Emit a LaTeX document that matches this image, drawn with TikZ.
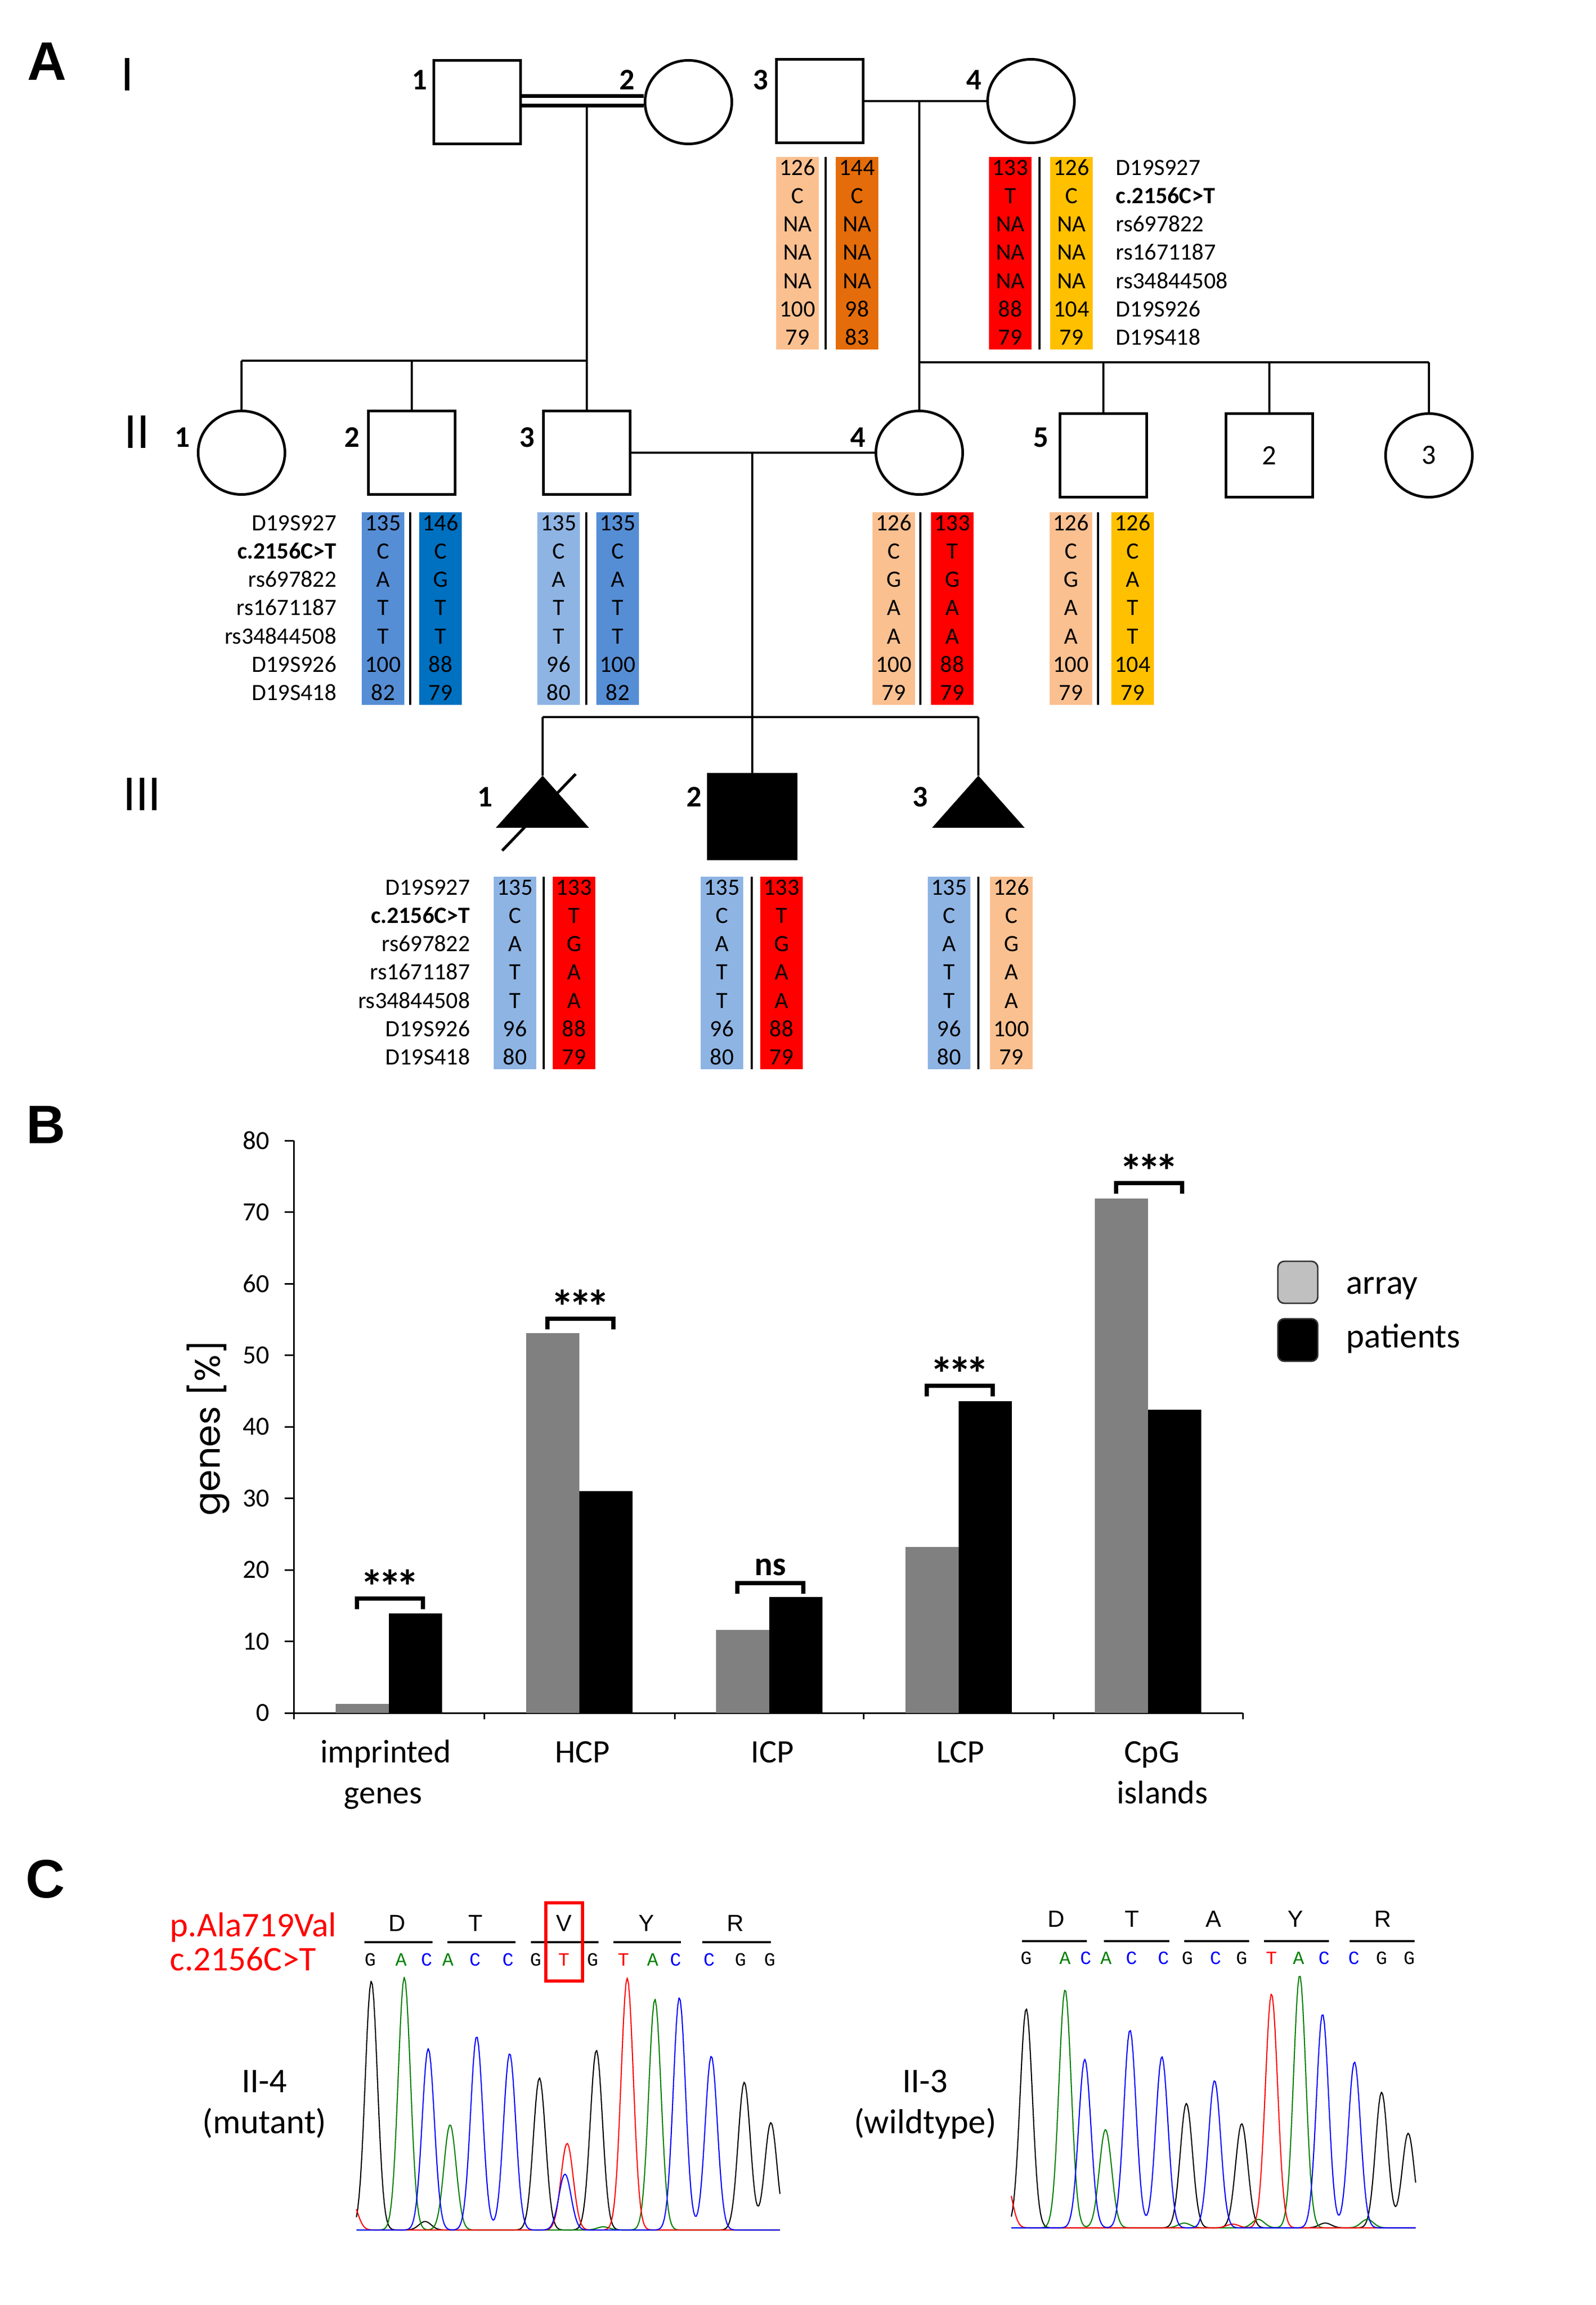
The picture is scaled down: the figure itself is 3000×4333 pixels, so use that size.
\documentclass[tikz,border=0pt]{standalone}
\usepackage{fontspec}
\setmainfont{Carlito}
\newfontfamily\panelfont{Liberation Sans}
\newfontfamily\axisfont{Poppins}
\newfontfamily\basefont{Liberation Mono}
\newfontfamily\aafont{Liberation Sans}
\usetikzlibrary{shapes.geometric}
\definecolor{peach}{HTML}{FAC090}
\definecolor{dorange}{HTML}{E46C0A}
\definecolor{hred}{HTML}{FF0000}
\definecolor{gold}{HTML}{FFC000}
\definecolor{mblue}{HTML}{558ED5}
\definecolor{dblue}{HTML}{0070C0}
\definecolor{lblue}{HTML}{8EB4E3}
\definecolor{bargray}{HTML}{808080}
\definecolor{leggray}{HTML}{C0C0C0}
\definecolor{cgreen}{HTML}{008000}
\definecolor{cblue}{HTML}{0000FF}
\definecolor{cred}{HTML}{FF0000}
\tikzset{
  sym/.style={draw, line width=1.4pt, inner sep=0pt, minimum width=1.63cm, minimum height=1.57cm},
  male/.style={sym, rectangle},
  female/.style={sym, ellipse},
  conn/.style={line width=1pt},
  sib/.style={line width=1.4pt},
  mar/.style={line width=1.2pt},
  dbl/.style={line width=1.9pt, double, double distance=0.11cm},
  hap/.style={font=\fontsize{12.5}{15}\selectfont, inner sep=0pt, text height=8pt, text depth=0pt},
  indlab/.style={font=\fontsize{16}{19}\selectfont\bfseries, inner sep=0pt},
  inlab/.style={font=\fontsize{15}{18}\selectfont},
  genlab/.style={font=\fontsize{27}{32}\selectfont, inner sep=0pt},
  panel/.style={font=\panelfont\fontsize{29}{34}\selectfont\bfseries, inner sep=0pt},
  axisline/.style={line width=0.85pt},
  ticklab/.style={font=\fontsize{14}{16}\selectfont, inner sep=0pt},
  catlab/.style={font=\fontsize{17.5}{21}\selectfont, inner sep=0pt},
  leglab/.style={font=\fontsize{18.5}{22}\selectfont, inner sep=0pt},
  legbox/.style={draw=black!80, line width=0.8pt, rounded corners=0.12cm},
  brk/.style={line width=2.3pt},
  sig/.style={font=\fontsize{18}{21}\selectfont\bfseries, inner sep=0pt},
  stars/.style={font=\fontsize{25}{28}\selectfont\bfseries, inner sep=0pt},
  ytitle/.style={font=\axisfont\fontsize{19}{22}\selectfont, inner sep=0pt},
  ptext/.style={font=\fontsize{18.5}{22}\selectfont, inner sep=0pt},
  aalab/.style={font=\aafont\fontsize{12.5}{15}\selectfont, inner sep=0pt},
  baselab/.style={font=\basefont\fontsize{10}{12}\selectfont, inner sep=0pt},
  aabar/.style={line width=1.1pt},
  trace/.style={line width=0.6pt, line join=round},
}
\newcommand\hapcol[5]{% name, xleft, first row y, colour, entries
  \fill[#4] (#2,#3-20) rectangle ++(80,362);
  \foreach \t [count=\i] in {#5}
    \node[hap] (#1-\i) at (#2+40,#3+\i*53.3-53.3) {\t};
}
\newcommand\hapsep[2]{\draw[line width=1pt] (#1,#2-20) -- ++(0,362);}
\newcommand\markers[4]{% name, x, first row y, anchor
  \foreach \t [count=\i] in {D19S927,\textbf{c.2156C>T},rs697822,rs1671187,rs34844508,D19S926,D19S418}
    \node[hap, anchor=#4] (#1-\i) at (#2,#3+\i*53.3-53.3) {\t};
}
\newcommand\threestars{*\kern-3pt*\kern-3pt*}
\begin{document}
\begin{tikzpicture}[x=0.01cm,y=-0.01cm,
  declare function={gp(\u,\m)=exp(-min(((\u-\m)/11.5)*((\u-\m)/11.5)/2,15));}]
\useasboundingbox (0,0) rectangle (3000,4333);

% ---------------- panel A ----------------
\node[panel] (pA) at (88,115) {A};
\node[genlab] (gI) at (239,140) {I};
\node[genlab] (gII) at (257,812) {II};
\node[genlab] (gIII) at (267,1493) {III};

% generation I
\node[male] (I1) at (897,192) {};
\node[female] (I2) at (1294,192) {};
\node[male] (I3) at (1541,190) {};
\node[female] (I4) at (1938,190) {};
\node[indlab] (lI1) at (789,150) {1};
\node[indlab] (lI2) at (1179,150) {2};
\node[indlab] (lI3) at (1430,150) {3};
\node[indlab] (lI4) at (1831,150) {4};
\draw[dbl] ([yshift=0.025cm]I1.east) -- ([yshift=0.025cm]I2.west);
\draw[mar] (I3) -- (I4);
\coordinate (d12) at (1103,199);
\coordinate (d34) at (1728,190);

% generation II
\node[female] (II1) at (454,851) {};
\node[male] (II2) at (774,851) {};
\node[male] (II3) at (1103,851) {};
\node[female] (II4) at (1728,851) {};
\node[male] (II5) at (2074,856) {};
\node[male, inlab] (II6) at (2386,856) {2};
\node[female, inlab] (II7) at (2686,856) {3};
\node[indlab] (lII1) at (343,822) {1};
\node[indlab] (lII2) at (662,822) {2};
\node[indlab] (lII3) at (991,822) {3};
\node[indlab] (lII4) at (1613,822) {4};
\node[indlab] (lII5) at (1957,822) {5};
\coordinate (s12) at (1103,678);
\coordinate (s34) at (2686,681);
\draw[sib] (II1.north |- s12) -- (s12);
\draw[conn] (d12) -- (II3.north);
\draw[conn] (II1.north |- s12) -- (II1.north);
\draw[conn] (II2.north |- s12) -- (II2.north);
\draw[sib] (II4.north |- s34) -- (s34);
\draw[conn] (d34) -- (II4.north);
\draw[conn] (II5.north |- s34) -- (II5.north);
\draw[conn] (II6.north |- s34) -- (II6.north);
\draw[conn] (s34) -- (II7.north);
\draw[mar] (II3) -- (II4);
\coordinate (d23) at (1414,851);

% generation III
\node[male, fill=black, minimum width=1.65cm, minimum height=1.59cm] (III2) at (1414,1535) {};
\coordinate (III1) at (1020,1458);
\coordinate (III3) at (1839,1458);
\fill (III1) -- (932,1556) -- (1107,1556) -- cycle;
\fill (III3) -- (1752,1556) -- (1926,1556) -- cycle;
\draw[line width=1.5pt] (944,1599) -- (1082,1455);
\node[indlab] (lIII1) at (912,1498) {1};
\node[indlab] (lIII2) at (1305,1498) {2};
\node[indlab] (lIII3) at (1730,1498) {3};
\coordinate (s3) at (1414,1348);
\draw[sib] (III1 |- s3) -- (III3 |- s3);
\draw[conn] (d23) -- (III2.north);
\draw[conn] (III1 |- s3) -- (III1);
\draw[conn] (III3 |- s3) -- (III3);

% haplotypes generation I
\hapcol{h13a}{1459}{315}{peach}{126,C,NA,NA,NA,100,79}
\hapsep{1552}{315}
\hapcol{h13b}{1571}{315}{dorange}{144,C,NA,NA,NA,98,83}
\hapcol{h14a}{1859}{315}{hred}{133,T,NA,NA,NA,88,79}
\hapsep{1954}{315}
\hapcol{h14b}{1974}{315}{gold}{126,C,NA,NA,NA,104,79}
\markers{m1}{2097}{315}{west}

% haplotypes generation II
\markers{m2}{633}{983}{east}
\hapcol{h22a}{680}{983}{mblue}{135,C,A,T,T,100,82}
\hapsep{771}{983}
\hapcol{h22b}{788}{983}{dblue}{146,C,G,T,T,88,79}
\hapcol{h23a}{1010}{983}{lblue}{135,C,A,T,T,96,80}
\hapsep{1102}{983}
\hapcol{h23b}{1121}{983}{mblue}{135,C,A,T,T,100,82}
\hapcol{h24a}{1640}{983}{peach}{126,C,G,A,A,100,79}
\hapsep{1730}{983}
\hapcol{h24b}{1750}{983}{hred}{133,T,G,A,A,88,79}
\hapcol{h25a}{1973}{983}{peach}{126,C,G,A,A,100,79}
\hapsep{2064}{983}
\hapcol{h25b}{2089}{983}{gold}{126,C,A,T,T,104,79}

% haplotypes generation III
\markers{m3}{884}{1668}{east}
\hapcol{h31a}{928}{1668}{lblue}{135,C,A,T,T,96,80}
\hapsep{1022}{1668}
\hapcol{h31b}{1039}{1668}{hred}{133,T,G,A,A,88,79}
\hapcol{h32a}{1317}{1668}{lblue}{135,C,A,T,T,96,80}
\hapsep{1413}{1668}
\hapcol{h32b}{1429}{1668}{hred}{133,T,G,A,A,88,79}
\hapcol{h33a}{1744}{1668}{lblue}{135,C,A,T,T,96,80}
\hapsep{1839}{1668}
\hapcol{h33b}{1861}{1668}{peach}{126,C,G,A,A,100,79}

% ---------------- panel B ----------------
\node[panel] (pB) at (86,2114) {B};
\draw[axisline] (552,2144) -- (552,3220) -- (2336,3220);
\foreach \v [count=\i] in {0,10,20,30,40,50,60,70,80}{
  \draw[axisline] (535,3220-13.45*\v) -- (552,3220-13.45*\v);
  \node[ticklab, anchor=east] (yt\i) at (507,3220-13.45*\v) {\v};
}
\foreach \xx in {552,910,1268,1623,1980,2336} \draw[axisline] (\xx,3220) -- (\xx,3232);
\foreach \gc/\ga/\gb in {731/1.3/13.9, 1089/53.1/31.0, 1446/11.6/16.2, 1802/23.2/43.6, 2158/71.9/42.4}{
  \fill[bargray] (\gc-100,3220) rectangle (\gc,3220-13.45*\ga);
  \fill[black] (\gc,3220) rectangle (\gc+100,3220-13.45*\gb);
}
\foreach \gc/\tp [count=\i] in {731/3005, 1089/2479, 1446/2976, 1802/2605, 2158/2224}{
  \draw[brk] (\gc-60,\tp+20) -- (\gc-60,\tp) -- (\gc+64,\tp) -- (\gc+64,\tp+20);
}
\foreach \gc/\tp [count=\i] in {731/3005, 1089/2479, 1802/2605, 2158/2224}{
  \node[stars, anchor=base] (sig\i) at (\gc+2,\tp+8) {\threestars};
}
\node[sig, anchor=base] (signs) at (1448,2961) {ns};
\node[ytitle, rotate=90] (ytitle) at (391,2684) {genes [\%]};
\node[catlab, anchor=base] (c1a) at (725,3313) {imprinted};
\node[catlab, anchor=base] (c1b) at (720,3390) {genes};
\node[catlab, anchor=base] (c2) at (1095,3313) {HCP};
\node[catlab, anchor=base] (c3) at (1452,3313) {ICP};
\node[catlab, anchor=base] (c4) at (1805,3313) {LCP};
\node[catlab, anchor=base] (c5a) at (2165,3313) {CpG};
\node[catlab, anchor=base] (c5b) at (2185,3390) {islands};
\draw[legbox, fill=leggray] (2402,2371) rectangle (2477,2450);
\draw[legbox, fill=black] (2402,2479) rectangle (2477,2559);
\node[leglab, anchor=base west] (lg1) at (2530,2432) {array};
\node[leglab, anchor=base west] (lg2) at (2530,2533) {patients};

% ---------------- panel C ----------------
\node[panel] (pC) at (85,3532) {C};
\node[ptext, text=red, anchor=base west] (pala) at (319,3640) {p.Ala719Val};
\node[ptext, text=red, anchor=base west] (cmut) at (319,3704) {c.2156C>T};
\node[ptext, anchor=base] (mutA) at (497,3933) {II-4};
\node[ptext, anchor=base] (mutB) at (497,4010) {(mutant)};
\node[ptext, anchor=base] (wtA) at (1739,3933) {II-3};
\node[ptext, anchor=base] (wtB) at (1739,4010) {(wildtype)};

\foreach \aa/\xa/\xl/\xr [count=\i] in {D/746/685/813, T/894/841/969, V/1060/998/1125, Y/1215/1153/1280, R/1382/1320/1449}{
  \node[aalab, anchor=base] (maa\i) at (\xa,3630) {\aa};
  \draw[aabar] (\xl,3651) -- (\xr,3651);
}
\foreach \aa/\xa/\xl/\xr [count=\i] in {D/1985/1921/2043, T/2128/2075/2198, A/2281/2226/2348, Y/2435/2376/2498, R/2599/2537/2659}{
  \node[aalab, anchor=base] (waa\i) at (\xa,3622) {\aa};
  \draw[aabar] (\xl,3649) -- (\xr,3649);
}
\foreach \b/\xx/\cc [count=\i] in {G/696/black, A/754/cgreen, C/802/cblue, A/842/cgreen, C/893/cblue, C/955/cblue, G/1007/black, T/1060/cred, G/1114/black, T/1172/cred, A/1227/cgreen, C/1270/cblue, C/1333/cblue, G/1392/black, G/1447/black}
  \node[baselab, text=\cc, anchor=base] (mb\i) at (\xx,3695) {\b};
\foreach \b/\xx/\cc [count=\i] in {G/1929/black, A/2002/cgreen, C/2041/cblue, A/2079/cgreen, C/2127/cblue, C/2187/cblue, G/2232/black, C/2285/cblue, G/2334/black, T/2390/cred, A/2441/cgreen, C/2489/cblue, C/2545/cblue, G/2597/black, G/2649/black}
  \node[baselab, text=\cc, anchor=base] (wb\i) at (\xx,3692) {\b};
\node[draw=red, line width=1.5pt, inner sep=0pt, minimum width=0.69cm, minimum height=1.47cm] (vbox) at (1060.5,3650.5) {};

% mutant chromatogram
\draw[trace, black] plot[domain=670:1466, samples=320] (\x,{4192-468*gp(\x,698)-16*gp(\x,799)-286*gp(\x,1014)-338*gp(\x,1121)-278*gp(\x,1399)-202*gp(\x,1449)});
\draw[trace, cgreen] plot[domain=670:1466, samples=320] (\x,{4192-475*gp(\x,760)-198*gp(\x,846)-6*gp(\x,1134)-434*gp(\x,1231)});
\draw[trace, cred] plot[domain=670:1466, samples=320] (\x,{4192-57*gp(\x,660)-163*gp(\x,1066)-474*gp(\x,1179)});
\draw[trace, cblue] plot[domain=670:1466, samples=320] (\x,{4192-341*gp(\x,805)-364*gp(\x,896)-332*gp(\x,958)-105*gp(\x,1062)-437*gp(\x,1277)-327*gp(\x,1337)});

% wildtype chromatogram
\draw[trace, black] plot[domain=1901:2661, samples=320] (\x,{4188-412*gp(\x,1929)-234*gp(\x,2230)-196*gp(\x,2334)-9*gp(\x,2491)-255*gp(\x,2597)-178*gp(\x,2647)});
\draw[trace, cgreen] plot[domain=1901:2661, samples=320] (\x,{4188-448*gp(\x,2002)-185*gp(\x,2078)-9*gp(\x,2226)-16*gp(\x,2365)-475*gp(\x,2443)-16*gp(\x,2570)});
\draw[trace, cred] plot[domain=1901:2661, samples=320] (\x,{4188-95*gp(\x,1890)-7*gp(\x,2317)-440*gp(\x,2390)});
\draw[trace, cblue] plot[domain=1901:2661, samples=320] (\x,{4188-317*gp(\x,2039)-372*gp(\x,2124)-322*gp(\x,2184)-277*gp(\x,2283)-402*gp(\x,2486)-312*gp(\x,2546)});
\end{tikzpicture}
\end{document}
